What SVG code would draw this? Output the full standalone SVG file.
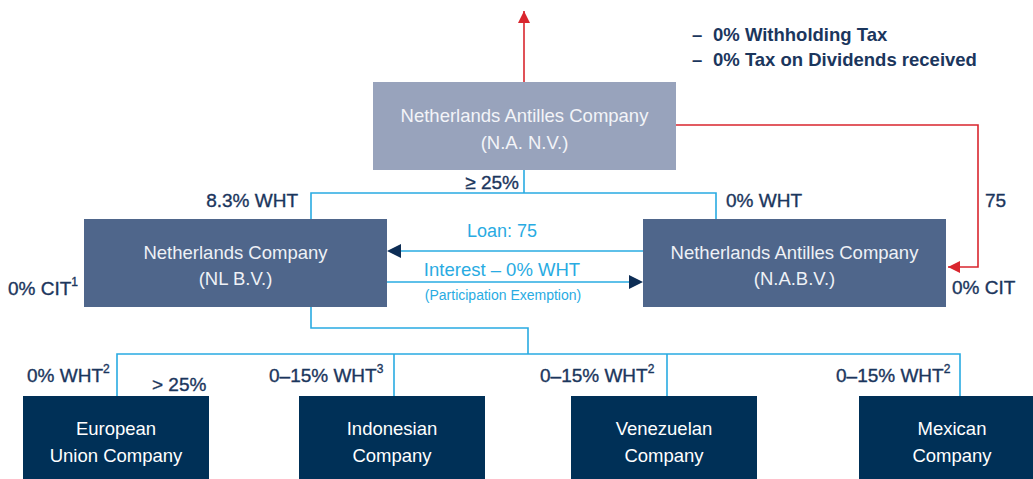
<svg xmlns="http://www.w3.org/2000/svg" width="1033" height="479" viewBox="0 0 1033 479">
<defs>
<style>
.lbl{font-family:"Liberation Sans",Arial,sans-serif;font-size:19px;fill:#1b365d;stroke:#1b365d;stroke-width:0.35}
.bx{font-family:"Liberation Sans",Arial,sans-serif;font-size:18.5px;text-anchor:middle}
.blue{stroke:#29abe2;stroke-width:1.6;fill:none}
.red{stroke:#d9262e;stroke-width:1.6;fill:none}
.bl{font-family:"Liberation Sans",Arial,sans-serif;fill:#29abe2}
.top{font-family:"Liberation Sans",Arial,sans-serif;font-size:18.5px;font-weight:bold;fill:#1b365d}
</style>
<marker id="redArr" viewBox="0 0 10 10" refX="10" refY="5" markerWidth="12" markerHeight="12" markerUnits="userSpaceOnUse" orient="auto">
<path d="M0,0 L10,5 L0,10 z" fill="#d9262e"/>
</marker>
</defs>
<rect width="1033" height="479" fill="#ffffff"/>

<g id="connectors">
<path class="red" d="M524,82 V11" marker-end="url(#redArr)"/>
<path class="red" d="M676,125 H978 V267 H948" marker-end="url(#redArr)"/>
<path class="blue" d="M524,170 V193"/>
<path class="blue" d="M311,219 V193 H716 V219"/>
<path class="blue" d="M643,251 H401"/>
<path d="M401,244 L387,251 L401,258 z" fill="#0d2d55"/>
<path class="blue" d="M387,282 H629"/>
<path d="M629,275 L643,282 L629,289 z" fill="#0d2d55"/>
<path class="blue" d="M311,307 V328 H528 V354"/>
<path class="blue" d="M117,396 V354 H960 V396"/>
<path class="blue" d="M394,354 V396"/>
<path class="blue" d="M667,354 V396"/>
</g>

<g id="labels">
<text class="top" x="692" y="41">–</text>
<text class="top" x="713" y="41">0% Withholding Tax</text>
<text class="top" x="692" y="66">–</text>
<text class="top" x="713" y="66">0% Tax on Dividends received</text>
<text class="lbl" x="519" y="189" text-anchor="end">≥ 25%</text>
<text class="lbl" x="298" y="207" text-anchor="end">8.3% WHT</text>
<text class="lbl" x="726" y="207">0% WHT</text>
<text class="lbl" x="985" y="207">75</text>
<text class="lbl" x="8" y="295">0% CIT<tspan font-size="12" dy="-9">1</tspan></text>
<text class="lbl" x="952" y="294">0% CIT</text>
<text class="bl" x="502" y="237" font-size="18" text-anchor="middle">Loan: 75</text>
<text class="bl" x="502" y="276" font-size="18.5" text-anchor="middle">Interest – 0% WHT</text>
<text class="bl" x="503" y="300" font-size="14" text-anchor="middle">(Participation Exemption)</text>
<text class="lbl" x="27" y="382">0% WHT<tspan font-size="12" dy="-9">2</tspan></text>
<text class="lbl" x="152" y="391">&gt; 25%</text>
<text class="lbl" x="269" y="382">0–15% WHT<tspan font-size="12" dy="-9">3</tspan></text>
<text class="lbl" x="540" y="382">0–15% WHT<tspan font-size="12" dy="-9">2</tspan></text>
<text class="lbl" x="836" y="382">0–15% WHT<tspan font-size="12" dy="-9">2</tspan></text>
</g>

<g id="na-nv">
<rect x="373" y="82" width="303" height="88" fill="#98a3bc"/>
<text class="bx" x="524.5" y="121.5" fill="#f3f4f8">Netherlands Antilles Company</text>
<text class="bx" x="524.5" y="148.5" fill="#f3f4f8">(N.A. N.V.)</text>
</g>

<g id="nl-bv">
<rect x="84" y="219" width="303" height="88" fill="#4f668b"/>
<text class="bx" x="235.5" y="258.5" fill="#eef1f6">Netherlands Company</text>
<text class="bx" x="235.5" y="285" fill="#eef1f6">(NL B.V.)</text>
</g>

<g id="na-bv">
<rect x="643" y="219" width="303" height="88" fill="#4f668b"/>
<text class="bx" x="794.5" y="258.5" fill="#eef1f6">Netherlands Antilles Company</text>
<text class="bx" x="794.5" y="285" fill="#eef1f6">(N.A.B.V.)</text>
</g>

<g id="eu">
<rect x="23" y="396" width="186" height="83" fill="#003057"/>
<text class="bx" x="116" y="434.5" fill="#ffffff">European</text>
<text class="bx" x="116" y="461.5" fill="#ffffff">Union Company</text>
</g>

<g id="indonesian">
<rect x="299" y="396" width="186" height="83" fill="#003057"/>
<text class="bx" x="392" y="434.5" fill="#ffffff">Indonesian</text>
<text class="bx" x="392" y="461.5" fill="#ffffff">Company</text>
</g>

<g id="venezuelan">
<rect x="571" y="396" width="186" height="83" fill="#003057"/>
<text class="bx" x="664" y="434.5" fill="#ffffff">Venezuelan</text>
<text class="bx" x="664" y="461.5" fill="#ffffff">Company</text>
</g>

<g id="mexican">
<rect x="859" y="396" width="186" height="83" fill="#003057"/>
<text class="bx" x="952" y="434.5" fill="#ffffff">Mexican</text>
<text class="bx" x="952" y="461.5" fill="#ffffff">Company</text>
</g>
</svg>
